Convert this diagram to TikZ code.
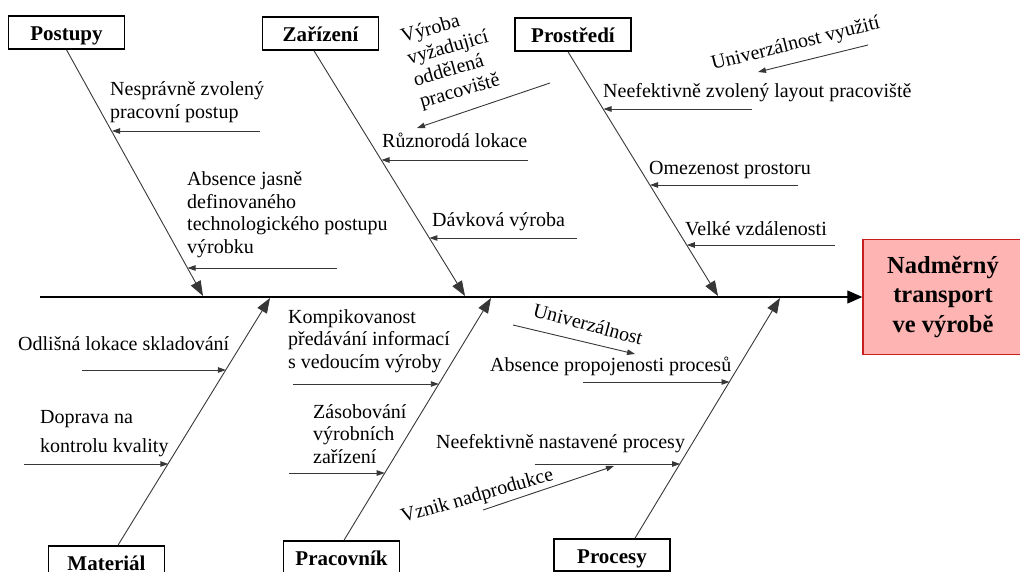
\documentclass[tikz,border=0pt]{standalone}
\usepackage{fontspec}
\setmainfont{Liberation Serif}
\usetikzlibrary{arrows.meta}
% multi-line cause text whose baseline is the first line
\newcommand{\causelines}[1]{\begin{tabular}[t]{@{}l@{}}#1\end{tabular}}
\definecolor{headfill}{RGB}{255,180,180}
\definecolor{headdraw}{RGB}{200,30,30}
\definecolor{bonecol}{RGB}{55,55,55}

\begin{document}
\begin{tikzpicture}[x=1pt,y=-1pt,
  catbox/.style={draw=black, line width=1.6pt, fill=white,
    font=\bfseries\fontsize{21}{24}\selectfont,
    minimum width=116pt, minimum height=33pt,
    text height=21pt, text depth=5pt, inner sep=0pt},
  headbox/.style={draw=headdraw, line width=1.5pt, fill=headfill,
    font=\bfseries\fontsize{24.5}{29.5}\selectfont, align=center,
    minimum width=160pt, minimum height=115pt, inner sep=0pt},
  cause/.style={inner sep=0pt, anchor=base west,
    font=\fontsize{20}{22.5}\selectfont},
  bone/.style={draw=bonecol, line width=0.9pt,
    -{Triangle[length=15pt,width=11pt]}},
  twig/.style={draw=bonecol, line width=0.9pt,
    -{Triangle[length=8pt,width=5.5pt]}},
  spine/.style={draw=black, line width=1.3pt,
    -{Triangle[length=15pt,width=13pt]}}
]
\useasboundingbox (0,0) rectangle (1020,572);
\clip (0,0) rectangle (1020,572);

% ---------- effect ----------
\node[headbox] (head) at (943,297) {Nadměrný\\transport\\ve výrobě};
\coordinate (tail) at (40,297);
\draw[spine] (tail) -- (head.west |- tail);

% ---------- category boxes ----------
\node[catbox] (postupy)   at (66.5,32.5)  {Postupy};
\node[catbox] (zarizeni)  at (320.5,33.5) {Zařízení};
\node[catbox] (prostredi) at (573,34.5)   {Prostředí};
\node[catbox] (material)  at (106.5,562.5){Materiál};
\node[catbox] (pracovnik) at (341.5,557.5){Pracovník};
\node[catbox, minimum height=32pt] (procesy) at (612,555) {Procesy};

% ---------- bone ends on the spine ----------
\coordinate (tipP) at (203,296);
\coordinate (tipZ) at (465,296);
\coordinate (tipE) at (718,296);
\coordinate (tipM) at (270,298);
\coordinate (tipW) at (491,298);
\coordinate (tipR) at (780,298);

\draw[bone] (postupy.south) -- (tipP);
\draw[bone] ([xshift=-6.5pt]zarizeni.south) -- (tipZ);
\draw[bone] ([xshift=-5pt]prostredi.south) -- (tipE);
\draw[bone] ([xshift=11.5pt]material.north) -- (tipM);
\draw[bone] ([xshift=2.5pt]pracovnik.north) -- (tipW);
\draw[bone] ([xshift=23pt]procesy.north) -- (tipR);

% ---------- Postupy ----------
\node[cause] (c1) at (110,96) {\causelines{Nesprávně zvolený\\pracovní postup}};
\node[cause] (c2) at (187,186) {\causelines{Absence jasně\\definovaného\\technologického postupu\\výrobku}};
\coordinate (p1s) at (260,131);   \coordinate (p1e) at (112,131);
\coordinate (p2s) at (337,268);   \coordinate (p2e) at (187.6,268);
\draw[twig] (p1s) -- (p1e);
\draw[twig] (p2s) -- (p2e);

% ---------- Zařízení ----------
\node[cause, rotate=16] (c3) at (403,43) {\causelines{Výroba\\vyžadujicí\\oddělená\\pracoviště}};
\node[cause] (c4) at (382,148) {Různorodá lokace};
\node[cause] (c5) at (432,227) {Dávková výroba};
\coordinate (z0s) at (550,83);    \coordinate (z0e) at (417,128);
\coordinate (z1s) at (528,160);   \coordinate (z1e) at (381.5,160);
\coordinate (z2s) at (577,238);   \coordinate (z2e) at (429.4,238);
\draw[twig] (z0s) -- (z0e);
\draw[twig] (z1s) -- (z1e);
\draw[twig] (z2s) -- (z2e);

% ---------- Prostředí ----------
\node[cause, rotate=14] (c6) at (713,70) {Univerzálnost využití};
\node[cause] (c7) at (603,98)  {Neefektivně zvolený layout pracoviště};
\node[cause] (c8) at (649,175) {Omezenost prostoru};
\node[cause] (c9) at (685,236) {Velké vzdálenosti};
\coordinate (e0s) at (868,45);    \coordinate (e0e) at (758,72);
\coordinate (e1s) at (752,109);   \coordinate (e1e) at (603.5,109);
\coordinate (e2s) at (798,185);   \coordinate (e2e) at (650,185);
\coordinate (e3s) at (835,245);   \coordinate (e3e) at (686.8,245);
\draw[twig] (e0s) -- (e0e);
\draw[twig] (e1s) -- (e1e);
\draw[twig] (e2s) -- (e2e);
\draw[twig] (e3s) -- (e3e);

% ---------- Materiál ----------
\node[cause] (c10) at (18,350) {Odlišná lokace skladování};
\node[cause, font=\fontsize{20}{29}\selectfont] (c11) at (40,423) {\causelines{Doprava na\\kontrolu kvality}};
\coordinate (m1s) at (82,370);    \coordinate (m1e) at (225.9,370);
\coordinate (m2s) at (24,464);    \coordinate (m2e) at (168.3,464);
\draw[twig] (m1s) -- (m1e);
\draw[twig] (m2s) -- (m2e);

% ---------- Pracovník ----------
\node[cause] (c12) at (288,323) {\causelines{Kompikovanost\\předávání informací\\s vedoucím výroby}};
\node[cause] (c13) at (313,418) {\causelines{Zásobování\\výrobních\\zařízení}};
\coordinate (w1s) at (293,384);   \coordinate (w1e) at (438.8,384);
\coordinate (w2s) at (289,473);   \coordinate (w2e) at (384.7,473);
\draw[twig] (w1s) -- (w1e);
\draw[twig] (w2s) -- (w2e);

% ---------- Procesy ----------
\node[cause, rotate=-15] (c14) at (532,316) {Univerzálnost};
\node[cause] (c15) at (490,371) {Absence propojenosti procesů};
\node[cause] (c16) at (436,448) {Neefektivně nastavené procesy};
\node[cause, rotate=16] (c17) at (403,523) {Vznik nadprodukce};
\coordinate (r0s) at (513,325);   \coordinate (r0e) at (635,354);
\coordinate (r1s) at (583,382);   \coordinate (r1e) at (729.5,382);
\coordinate (r2s) at (535,464);   \coordinate (r2e) at (680.1,464);
\coordinate (r3s) at (483,510);   \coordinate (r3e) at (614,466);
\draw[twig] (r0s) -- (r0e);
\draw[twig] (r1s) -- (r1e);
\draw[twig] (r2s) -- (r2e);
\draw[twig] (r3s) -- (r3e);
\end{tikzpicture}
\end{document}
